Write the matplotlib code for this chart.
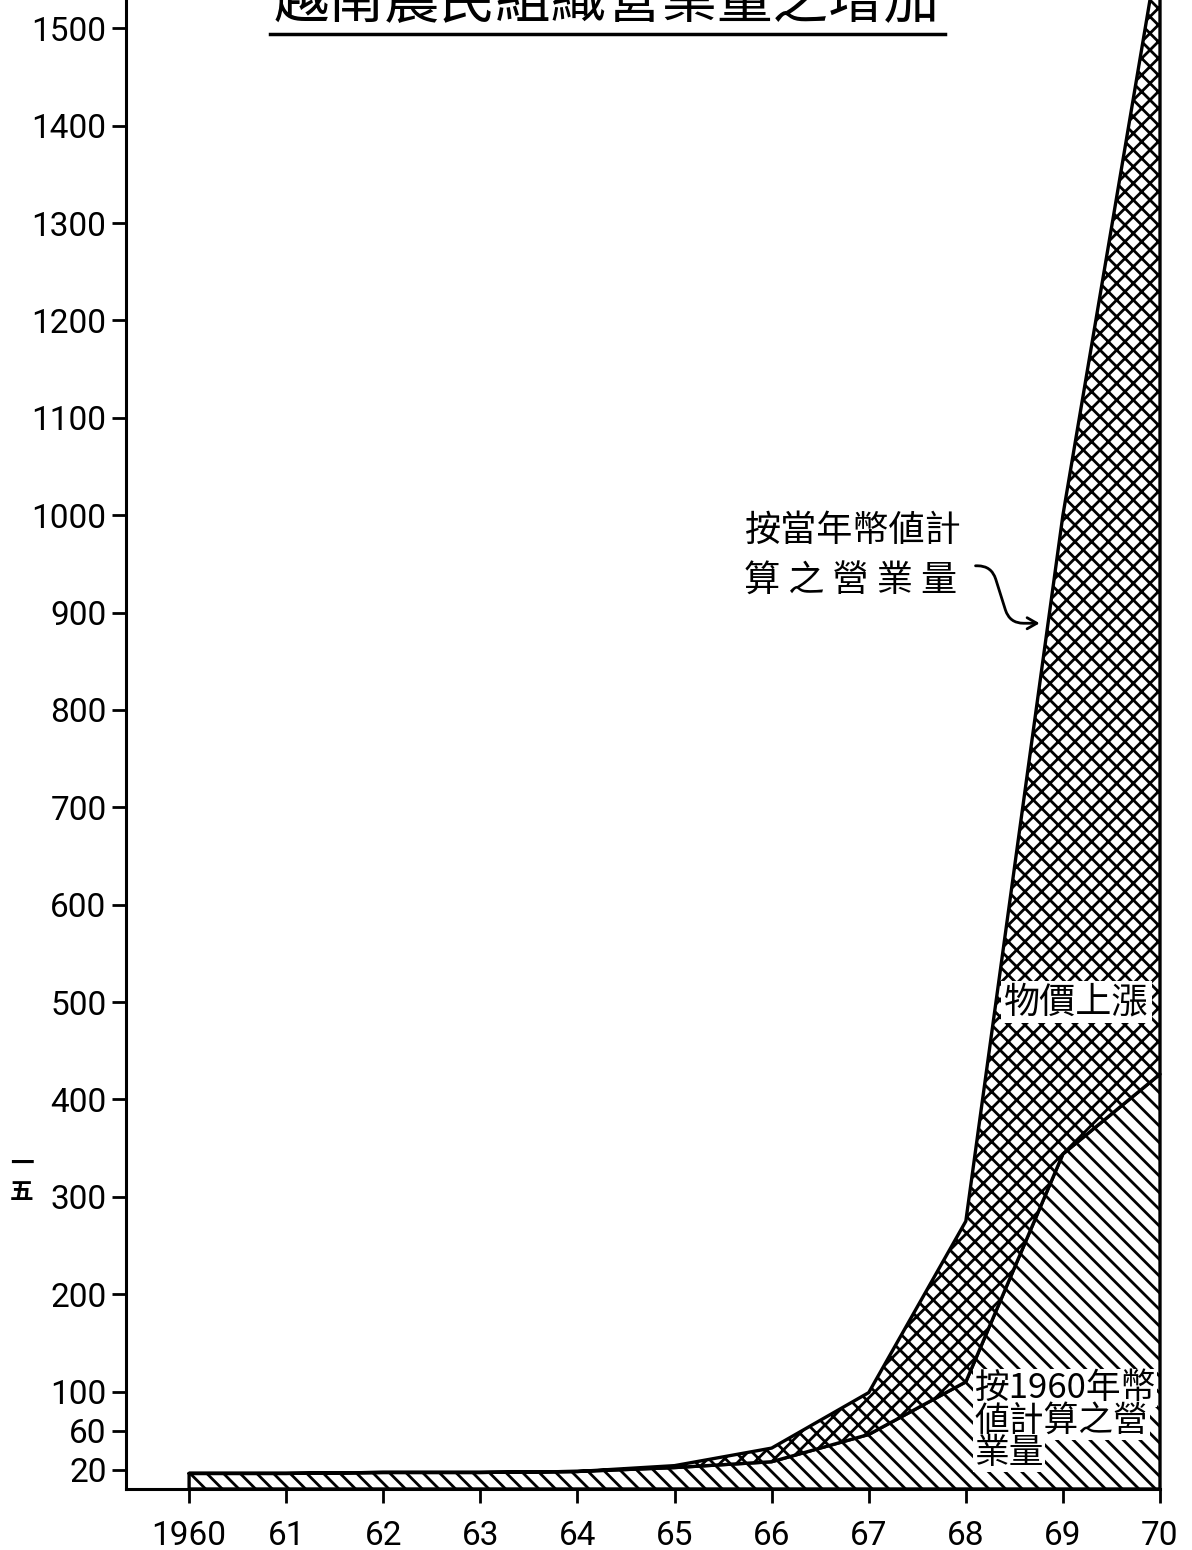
import matplotlib.pyplot as plt
from matplotlib.lines import Line2D

plt.rcParams['font.family'] = ['Roboto', 'Noto Sans CJK TC', 'DejaVu Sans']
plt.rcParams['hatch.linewidth'] = 2.0

CJK = ['Noto Sans CJK TC', 'DejaVu Sans']

# values (millions of piastres, rough)
years = [1960, 1961, 1962, 1963, 1964, 1965, 1966, 1967, 1968, 1969, 1970]
year_labels = ['1960', '61', '62', '63', '64', '65', '66', '67', '68', '69', '70']
current_prices = [16, 16, 17, 17, 18, 24, 42, 99, 275, 1000, 1590]
constant_prices = [16, 16, 17, 17, 18, 22, 28, 56, 110, 344, 426]
y_ticks = [20, 60, 100, 200, 300, 400, 500, 600, 700, 800, 900,
           1000, 1100, 1200, 1300, 1400, 1500]

fig = plt.figure(figsize=(11.92, 15.5), dpi=100)
ax = fig.add_axes([126 / 1192, 61 / 1550, (1160 - 126) / 1192, 1 - 61 / 1550])

# volume at 1960 prices
ax.fill_between(years, 0, constant_prices, facecolor='white', edgecolor='black',
                hatch='\\\\', linewidth=2.4, clip_on=False, zorder=2)
# price rise part on top of it
ax.fill_between(years, constant_prices, current_prices, facecolor='white',
                edgecolor='black', hatch='xx', linewidth=2.4, clip_on=False, zorder=2)

ax.set_xlim(1959.35, 1970)
ax.set_ylim(0, 1529)
ax.set_xticks(years)
ax.set_xticklabels(year_labels)
ax.set_yticks(y_ticks)
ax.tick_params(direction='out', length=10, width=2, labelsize=24, pad=4)
ax.tick_params(axis='x', pad=12)

ax.spines['top'].set_visible(False)
ax.spines['right'].set_visible(False)
ax.spines['left'].set_linewidth(2.2)
ax.spines['bottom'].set_linewidth(2.2)

# labels inside the chart
ax.text(1965.72, 958, '按當年幣値計\n算 之 營 業 量', fontsize=26, linespacing=1.5,
        ha='left', va='center', family=CJK)
ax.annotate('', xy=(1968.76, 889), xytext=(1968.1, 948),
            arrowprops=dict(arrowstyle='->,head_length=0.7,head_width=0.4', lw=2,
                            shrinkA=0, shrinkB=0,
                            connectionstyle='arc,angleA=0,armA=16,angleB=180,armB=30,rad=14'))

ax.text(1969.14, 500, '物價上漲', fontsize=26, ha='center', va='center', family=CJK,
        zorder=5, bbox=dict(facecolor='white', edgecolor='none', pad=2))

for ty, line in zip([103.6, 69.7, 36.9], ['按1960年幣', '値計算之營', '業量']):
    ax.text(1968.09, ty, line, fontsize=25, ha='left', va='center', family=CJK,
            zorder=5, bbox=dict(facecolor='white', edgecolor='none', pad=1))

# title, cut off by the page edge
fig.text(607 / 1192, 1 - 18 / 1550, '越南農民組織營業量之增加', fontsize=40,
         ha='center', va='baseline', family=CJK)
fig.add_artist(Line2D([270 / 1192, 945 / 1192], [1 - 34 / 1550, 1 - 34 / 1550],
                      color='black', lw=2.5))

# page number in the margin
fig.text(22 / 1192, 1 - 1178 / 1550, '一\n五', fontsize=17, ha='center', va='center',
         linespacing=1.2, fontweight='bold', family=CJK)

fig.savefig('out.png', dpi=100)
